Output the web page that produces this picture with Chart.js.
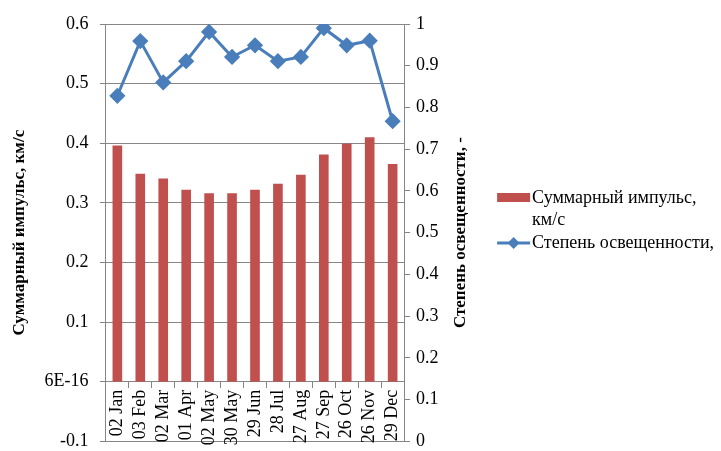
<!DOCTYPE html>
<html>
<head>
<meta charset="utf-8">
<script src="https://cdn.jsdelivr.net/npm/chart.js@4.4.0/dist/chart.umd.min.js"></script>
<style>
    html, body { margin: 0; padding: 0; background: #fff; }
    canvas { display: block; }
</style>
</head>
<body>
<canvas id="impulseChart" width="721" height="451"></canvas>
<script>
// --- Data ---
const dates = ['02 Jan', '03 Feb', '02 Mar', '01 Apr', '02 May', '30 May', '29 Jun',
               '28 Jul', '27 Aug', '27 Sep', '26 Oct', '26 Nov', '29 Dec'];
const impulse = [0.396, 0.349, 0.341, 0.322, 0.316, 0.316, 0.322, 0.332, 0.347, 0.381, 0.399, 0.410, 0.365];
const illumination = [0.828, 0.959, 0.860, 0.911, 0.981, 0.921, 0.949, 0.911, 0.921, 0.990, 0.949, 0.960, 0.767];
const leftTicks = ['-0.1', '6E-16', '0.1', '0.2', '0.3', '0.4', '0.5', '0.6'];
const rightTicks = ['0', '0.1', '0.2', '0.3', '0.4', '0.5', '0.6', '0.7', '0.8', '0.9', '1'];

const impulseLabel = ['Суммарный импульс,', 'км/с'];
const illuminationLabel = 'Степень освещенности,';
const rightTitle = 'Степень освещенности, -';

const barColor = '#C0504D';
const lineColor = '#4A7EBB';
const gridColor = '#868686';
const serif = "'Liberation Serif', 'Times New Roman', serif";

Chart.defaults.font.family = serif;
Chart.defaults.color = '#000';

// Legend drawn by hand so the line entry can show a line + diamond.
// Also redraws the right axis title reading bottom-to-top like the left one.
const sideLegend = {
    id: 'sideLegend',
    afterDraw(chart) {
        const ctx = chart.ctx;
        const x = chart.chartArea.right + 93;
        ctx.save();
        ctx.font = '18px ' + serif;
        ctx.textBaseline = 'middle';

        // bar entry
        ctx.fillStyle = barColor;
        ctx.fillRect(x, 193, 33, 9);
        ctx.fillStyle = '#000';
        ctx.fillText(impulseLabel[0], x + 35, 198);
        ctx.fillText(impulseLabel[1], x + 35, 220);

        // line entry
        const ly = 243;
        ctx.strokeStyle = lineColor;
        ctx.lineWidth = 3;
        ctx.beginPath();
        ctx.moveTo(x, ly);
        ctx.lineTo(x + 33, ly);
        ctx.stroke();
        ctx.fillStyle = lineColor;
        ctx.beginPath();
        ctx.moveTo(x + 16.5, ly - 6);
        ctx.lineTo(x + 22.5, ly);
        ctx.lineTo(x + 16.5, ly + 6);
        ctx.lineTo(x + 10.5, ly);
        ctx.closePath();
        ctx.fill();
        ctx.fillStyle = '#000';
        ctx.fillText(illuminationLabel, x + 35, ly);

        // right axis title
        const s = chart.scales.y1;
        ctx.font = 'bold 17px ' + serif;
        ctx.textAlign = 'center';
        ctx.translate(s.right - 10, (s.top + s.bottom) / 2);
        ctx.rotate(-Math.PI / 2);
        ctx.fillText(rightTitle, 0, 0);
        ctx.restore();
    }
};

new Chart(document.getElementById('impulseChart'), {
    data: {
        labels: dates,
        datasets: [
            {
                type: 'line',
                label: illuminationLabel,
                data: illumination,
                yAxisID: 'y1',
                borderColor: lineColor,
                backgroundColor: lineColor,
                borderWidth: 3,
                pointStyle: 'rectRot',
                pointRadius: 6,
                pointHoverRadius: 6,
                tension: 0
            },
            {
                type: 'bar',
                label: impulseLabel.join(' '),
                data: impulse,
                yAxisID: 'y',
                backgroundColor: barColor,
                borderWidth: 0,
                categoryPercentage: 1,
                barPercentage: 0.42
            }
        ]
    },
    options: {
        responsive: false,
        animation: false,
        layout: { padding: { left: 9, right: 250, top: 24, bottom: 8 } },
        plugins: {
            legend: { display: false },
            tooltip: { enabled: false }
        },
        scales: {
            x: {
                type: 'category',
                position: { y: 0 },
                offset: true,
                grid: { drawOnChartArea: false, offset: true, tickLength: 6, color: gridColor },
                border: { color: gridColor, width: 1 },
                ticks: {
                    autoSkip: false,
                    minRotation: 90,
                    maxRotation: 90,
                    padding: 2,
                    font: { size: 18 }
                }
            },
            y: {
                position: 'left',
                min: -0.1,
                max: 0.6,
                ticks: {
                    stepSize: 0.1,
                    font: { size: 18, lineHeight: 0.3 },
                    padding: 7,
                    // trailing space widens the gap to the axis like the original
                    callback: (v, i) => leftTicks[i] + ' '
                },
                grid: { color: gridColor, tickLength: 6 },
                border: { color: gridColor },
                title: {
                    display: true,
                    text: 'Суммарный импульс, км/с',
                    font: { size: 17, weight: 'bold' },
                    padding: { top: 0, bottom: 8 }
                }
            },
            y1: {
                position: 'right',
                min: 0,
                max: 1,
                ticks: {
                    stepSize: 0.1,
                    font: { size: 18, lineHeight: 0.3 },
                    padding: 6,
                    callback: (v, i) => rightTicks[i]
                },
                grid: { drawOnChartArea: false, color: gridColor, tickLength: 6 },
                border: { color: gridColor },
                title: {
                    display: true,
                    text: rightTitle,
                    color: 'rgba(0,0,0,0)',
                    font: { size: 17, weight: 'bold' },
                    padding: { top: 6, bottom: 0 }
                }
            }
        }
    },
    plugins: [sideLegend]
});
</script>
</body>
</html>
